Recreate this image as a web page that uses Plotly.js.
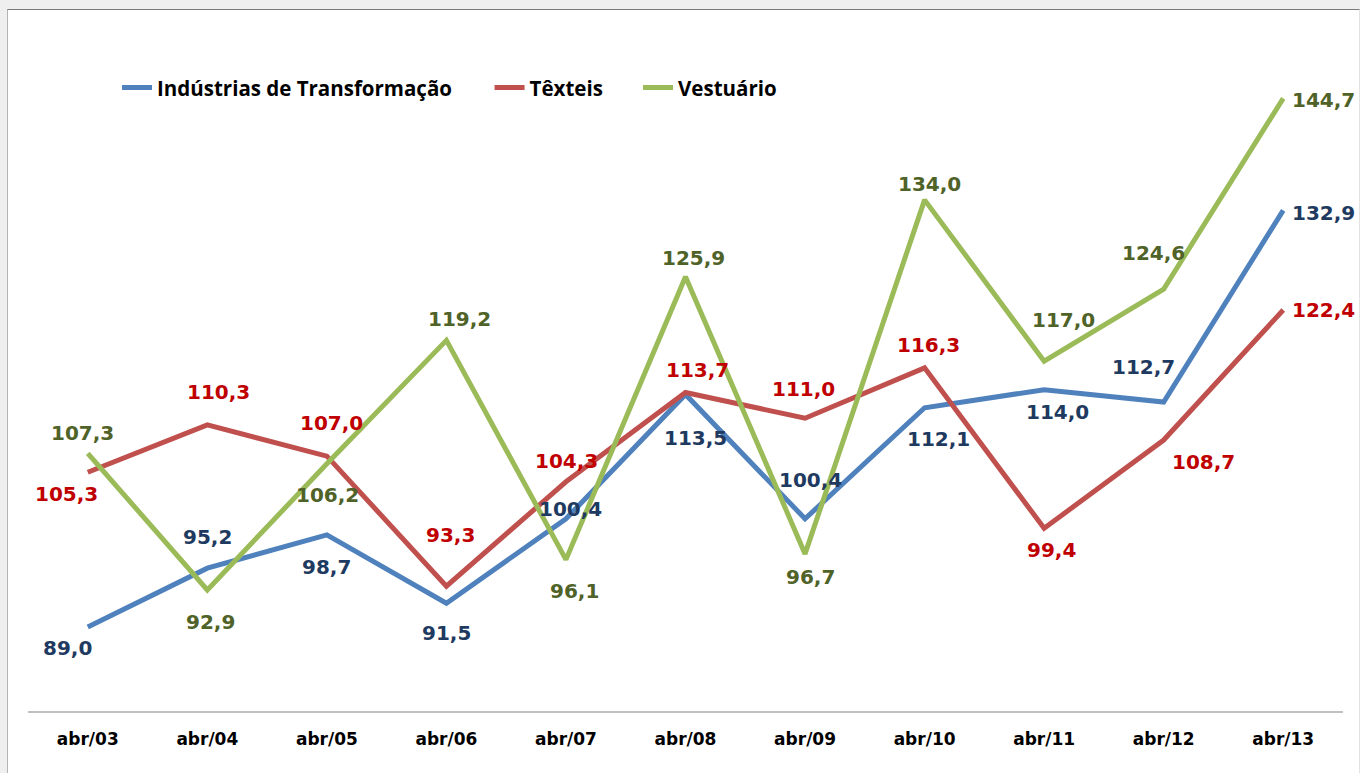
<!DOCTYPE html>
<html>
<head>
<meta charset="utf-8">
<script src="https://cdn.plot.ly/plotly-3.0.1.min.js"></script>
<style>
  html, body { margin: 0; padding: 0; width: 1360px; height: 773px; overflow: hidden; background: #efefef; }
  #frame { position: absolute; left: 7px; top: 9px; width: 1351px; height: 770px; background: #ffffff;
           border-top: 1px solid #7a7a7a; border-left: 1px solid #b4b4b4; border-right: 1px solid #e2e2e2; }
  #chart { position: absolute; left: 0; top: 0; width: 1360px; height: 773px; }
</style>
</head>
<body>
<div id="frame"></div>
<div id="chart"></div>
<script>
// ---- data ----
const categories = ["abr/03","abr/04","abr/05","abr/06","abr/07","abr/08","abr/09","abr/10","abr/11","abr/12","abr/13"];
const seriesNames = ["Indústrias de Transformação", "Têxteis", "Vestuário"];
const industrias = [89.0, 95.2, 98.7, 91.5, 100.4, 113.5, 100.4, 112.1, 114.0, 112.7, 132.9];
const texteis    = [105.3, 110.3, 107.0, 93.3, 104.3, 113.7, 111.0, 116.3, 99.4, 108.7, 122.4];
const vestuario  = [107.3, 92.9, 106.2, 119.2, 96.1, 125.9, 96.7, 134.0, 117.0, 124.6, 144.7];

// ---- styles ----
const lineColors  = ["#4F81BD", "#C0504D", "#9BBB59"];
const labelColors = ["#1F3A60", "#C00000", "#4F6228"];
// label offsets in pixels [dx, dy] (dy positive = downwards)
const offsIndustrias = [[-20,21],[0,-31],[0,32],[0,30],[5,-10],[10,44],[5,-39],[14,31],[13,22],[-20,-35],[40,3]];
const offsTexteis    = [[-21,22],[11,-33],[5,-33],[4,-51],[1,-21],[12,-23],[-2,-29],[4,-23],[7,22],[40,22],[40,0]];
const offsVestuario  = [[-5,-20],[3,32],[1,31],[13,-21],[9,31],[8,-19],[5,23],[5,-16],[19,-41],[-10,-36],[40,2]];
const legendIds = ['legend', 'legend2', 'legend3'];
const legendX = [0.0677, 0.351, 0.4639];

const allSeries = [industrias, texteis, vestuario];
const allOffs = [offsIndustrias, offsTexteis, offsVestuario];

const fmt = v => v.toFixed(1).replace('.', ',');

const traces = allSeries.map((vals, s) => ({
  type: 'scatter',
  mode: 'lines',
  name: seriesNames[s],
  legend: legendIds[s],
  x: categories,
  y: vals,
  line: { color: lineColors[s], width: 5, shape: 'linear' },
  hoverinfo: 'skip'
}));

const annotations = [];
allSeries.forEach((vals, s) => {
  vals.forEach((v, i) => {
    annotations.push({
      x: categories[i], y: v, xref: 'x', yref: 'y',
      text: fmt(v), showarrow: false,
      xanchor: 'center', yanchor: 'middle',
      xshift: allOffs[s][i][0], yshift: -allOffs[s][i][1],
      font: { family: 'DejaVu Sans', size: 20, weight: 'bold', color: labelColors[s] }
    });
  });
});

const legendStyle = x => ({
  orientation: 'h', x: x, xanchor: 'left', y: 0.94, yanchor: 'middle',
  bgcolor: 'rgba(0,0,0,0)',
  font: { family: 'Open Sans', size: 20.5, weight: 'bold', color: '#000000' }
});

const layout = {
  width: 1360, height: 773,
  margin: { l: 28, r: 17, t: 48, b: 62, pad: 0 },
  paper_bgcolor: 'rgba(0,0,0,0)',
  plot_bgcolor: 'rgba(0,0,0,0)',
  showlegend: true,
  legend: legendStyle(legendX[0]),
  legend2: legendStyle(legendX[1]),
  legend3: legendStyle(legendX[2]),
  xaxis: {
    type: 'category', categoryorder: 'array', categoryarray: categories,
    range: [-0.5, 10.5], fixedrange: true,
    showgrid: false, zeroline: false, ticks: '',
    showline: true, linecolor: '#c0c0c0', linewidth: 2,
    ticklabelstandoff: 12,
    tickfont: { family: 'DejaVu Sans', size: 17, weight: 'bold', color: '#000000' }
  },
  yaxis: {
    range: [80.15, 150], visible: false, fixedrange: true,
    showgrid: false, zeroline: false
  },
  annotations: annotations
};

Plotly.newPlot('chart', traces, layout, { staticPlot: true, displayModeBar: false });
</script>
</body>
</html>
